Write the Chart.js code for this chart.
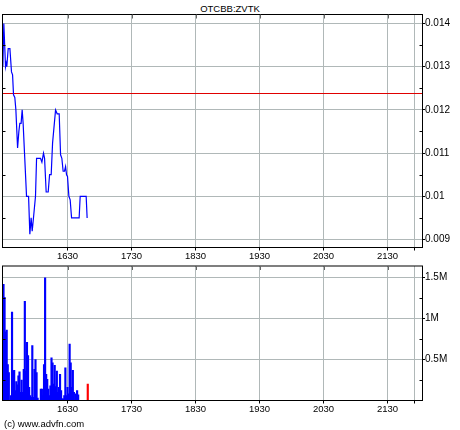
<!DOCTYPE html>
<html>
<head>
<meta charset="utf-8">
<script src="https://cdn.jsdelivr.net/npm/chart.js@4.4.1/dist/chart.umd.min.js"></script>
<style>
    body { margin: 0; background: #fff; width: 460px; height: 430px; position: relative; overflow: hidden; font-family: "Liberation Sans", Arial, sans-serif; color: #000; }
    #priceChart { position: absolute; left: 0; top: 0; }
    #volChart { position: absolute; left: 0; top: 260px; }
    .title { position: absolute; left: 0; top: 4px; width: 460px; text-align: center; font-size: 9.5px; line-height: 10px; }
    .copy { position: absolute; left: 4px; top: 419px; font-size: 9.5px; line-height: 10px; }
</style>
</head>
<body>
<div class="title">OTCBB:ZVTK</div>
<canvas id="priceChart" width="460" height="260"></canvas>
<canvas id="volChart" width="460" height="170"></canvas>
<div class="copy">(c) www.advfn.com</div>

<script>
// times are minutes after midnight (990 = 16:30)
const priceTimes = [929.4, 930.3, 931.9, 932.5, 933.1, 934.4, 936.0, 937.5, 938.5, 939.4,
    940.6, 941.6, 943.2, 944.4, 945.3, 946.5, 947.5, 948.4, 949.7, 951.6,
    953.5, 954.7, 955.9, 956.9, 958.4, 960.0, 961.0, 964.7, 966.0, 967.5,
    968.5, 970.0, 971.9, 973.2, 974.7, 976.0, 978.8, 980.3, 982.2, 983.5,
    984.7, 985.9, 987.2, 988.2, 989.1, 990.0, 991.3, 992.5, 993.8, 1000.9,
    1001.9, 1007.5, 1008.4];
const prices = [0.0130, 0.0140, 0.0130, 0.01308, 0.0130, 0.01342, 0.01342, 0.01288, 0.01281, 0.01235,
    0.01229, 0.0120, 0.01112, 0.0115, 0.01169, 0.01169, 0.0120, 0.01169, 0.0110, 0.0100,
    0.0100, 0.00912, 0.0095, 0.00919, 0.00958, 0.0100, 0.01088, 0.01088, 0.01079, 0.0110,
    0.01088, 0.0101, 0.0101, 0.0105, 0.0105, 0.01123, 0.0120, 0.01191, 0.01191, 0.01096,
    0.01088, 0.01058, 0.01058, 0.01069, 0.0105, 0.01046, 0.0100, 0.00992, 0.0095, 0.0095,
    0.0100, 0.0100, 0.0095];
const prevClose = 0.01238;

const volTimes = [930, 931, 932, 933, 934, 935, 936, 937, 938, 939,
    940, 941, 942, 943, 944, 945, 946, 947, 948, 949,
    950, 951, 952, 953, 954, 955, 956, 957, 958, 959,
    960, 961, 962, 963, 964, 965, 966, 967, 968, 969,
    970, 971, 972, 973, 974, 975, 976, 977, 978, 979,
    980, 981, 982, 983, 984, 985, 986, 987, 988, 989,
    990, 991, 992, 993, 994, 995, 996, 997, 998, 999,
    1000, 1009];
const volumes = [1420000, 1260000, 840000, 860000, 440000, 340000, 0, 60000, 1080000, 360000,
    370000, 120000, 230000, 190000, 300000, 350000, 100000, 250000, 100000, 380000,
    1210000, 360000, 710000, 550000, 160000, 60000, 40000, 670000, 40000, 380000,
    500000, 340000, 30000, 0, 0, 140000, 140000, 60000, 440000, 1500000,
    320000, 260000, 140000, 60000, 180000, 520000, 460000, 200000, 430000, 170000,
    360000, 100000, 160000, 320000, 120000, 20000, 20000, 60000, 400000, 60000,
    160000, 80000, 690000, 460000, 160000, 370000, 100000, 0, 80000, 120000,
    70000, 200000];

const timeTicks = ['1630', '1730', '1830', '1930', '2030', '2130'];
const sessionEnd = 1315;
const priceTicks = [0.009, 0.01, 0.011, 0.012, 0.013, 0.014];
const volTicks = [500000, 1000000, 1500000];

const xMin = 929.06;
const xMax = 1322.81;
const gridColor = '#b0b8b8';
const labelFont = { family: '"Liberation Sans", Arial, sans-serif', size: 10 };
const timeFont = { family: '"Liberation Sans", Arial, sans-serif', size: 9.5 };

const tickMinutes = timeTicks.map(t => parseInt(t.slice(0, 2)) * 60 + parseInt(t.slice(2)));

function minutesToLabel(v) {
    const i = tickMinutes.indexOf(v);
    return i >= 0 ? timeTicks[i] : '';
}

function midpoints(ticks, min, max) {
    const step = ticks[1] - ticks[0];
    const out = [];
    for (let v = ticks[0] - step / 2; v < max; v += step) {
        if (v > min) out.push(v);
    }
    return out;
}

// box around the plot, short inside ticks and the reference line
const framePlugin = {
    id: 'frame',
    beforeDatasetsDraw(chart, args, opts) {
        if (opts.refLine == null) return;
        const { ctx, chartArea: a, scales } = chart;
        const p = Math.round(scales.y.getPixelForValue(opts.refLine)) + 0.5;
        ctx.save();
        ctx.strokeStyle = '#e00000';
        ctx.lineWidth = 1;
        ctx.beginPath();
        ctx.moveTo(a.left, p);
        ctx.lineTo(a.right, p);
        ctx.stroke();
        ctx.restore();
    },
    afterDraw(chart, args, opts) {
        const { ctx, chartArea: a, scales } = chart;
        ctx.save();
        ctx.strokeStyle = '#000';
        ctx.lineWidth = 1;
        ctx.strokeRect(a.left, a.top, a.right - a.left, a.bottom - a.top);

        ctx.beginPath();
        (opts.minor || []).forEach(v => {
            const p = Math.round(scales.y.getPixelForValue(v)) + 0.5;
            ctx.moveTo(a.left, p);
            ctx.lineTo(a.left + 3, p);
            ctx.moveTo(a.right, p);
            ctx.lineTo(a.right - 3, p);
        });
        ctx.stroke();

        ctx.strokeStyle = '#666';
        ctx.beginPath();
        tickMinutes.forEach(v => {
            const p = Math.round(scales.x.getPixelForValue(v)) + 0.5;
            ctx.moveTo(p, a.top);
            ctx.lineTo(p, a.top + 4);
        });
        ctx.stroke();
        ctx.restore();
    }
};

function xScale() {
    return {
        type: 'linear',
        min: xMin,
        max: xMax,
        offset: false,
        afterBuildTicks: s => { s.ticks = tickMinutes.concat([sessionEnd]).map(v => ({ value: v })); },
        grid: { color: gridColor, tickColor: '#000', tickLength: 3, lineWidth: 1, offset: false },
        border: { display: false },
        ticks: {
            autoSkip: false, maxRotation: 0, padding: 0,
            font: timeFont, color: '#000',
            callback: v => minutesToLabel(v)
        }
    };
}

function yScale(min, max, ticks, fmt) {
    return {
        position: 'right',
        min: min,
        max: max,
        afterBuildTicks: s => { s.ticks = ticks.map(v => ({ value: v })); },
        afterFit: s => { s.width = 37.5; },
        grid: { color: gridColor, tickColor: '#000', tickLength: 2.5, lineWidth: 1 },
        border: { display: false },
        ticks: { padding: 0, font: labelFont, color: '#000', callback: fmt }
    };
}

const priceMin = 0.008815;
const priceMax = 0.014208;
const priceX = xScale();
priceX.afterFit = s => { s.height = 12.5; };

new Chart(document.getElementById('priceChart'), {
    type: 'line',
    data: {
        datasets: [{
            data: priceTimes.map((t, i) => ({ x: t, y: prices[i] })),
            borderColor: '#0000ff',
            borderWidth: 1.2,
            pointRadius: 0,
            tension: 0,
            fill: false
        }]
    },
    options: {
        responsive: false,
        animation: false,
        devicePixelRatio: 1,
        layout: { padding: { left: 2.5, top: 14.5, right: 0, bottom: 0 } },
        scales: {
            x: priceX,
            y: yScale(priceMin, priceMax, priceTicks, v => parseFloat(v.toFixed(3)).toString())
        },
        plugins: {
            legend: { display: false },
            tooltip: { enabled: false },
            frame: { refLine: prevClose, minor: midpoints(priceTicks, priceMin, priceMax) }
        }
    },
    plugins: [framePlugin]
});

const volMax = 1643000;
const volX = xScale();
volX.afterFit = s => { s.height = 29.5; };

new Chart(document.getElementById('volChart'), {
    type: 'bar',
    data: {
        datasets: [{
            data: volTimes.map((t, i) => ({ x: t, y: volumes[i] })),
            backgroundColor: volTimes.map((t, i) => i === volTimes.length - 1 ? '#ff0000' : '#0000ff'),
            borderWidth: 0,
            barThickness: 1.5
        }]
    },
    options: {
        responsive: false,
        animation: false,
        devicePixelRatio: 1,
        layout: { padding: { left: 2.5, top: 2.5, right: 0, bottom: 0 } },
        scales: {
            x: volX,
            y: yScale(0, volMax, volTicks, v => (v / 1000000) + 'M')
        },
        plugins: {
            legend: { display: false },
            tooltip: { enabled: false },
            frame: { minor: midpoints(volTicks, 0, volMax) }
        }
    },
    plugins: [framePlugin]
});
</script>
</body>
</html>
